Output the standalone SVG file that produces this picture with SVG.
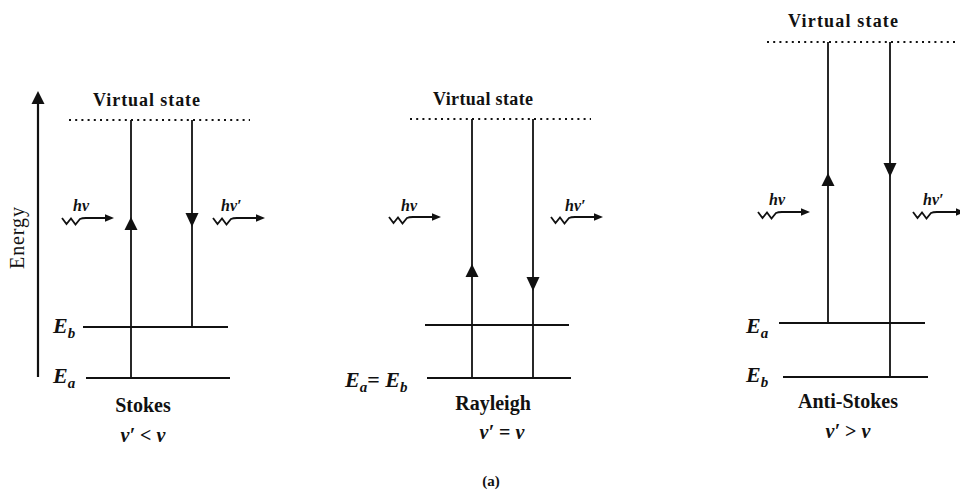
<svg xmlns="http://www.w3.org/2000/svg" width="960" height="495" viewBox="0 0 960 495">
<defs>
<style>
.bg{fill:#ffffff}
.lvl{stroke:#111;stroke-width:2.2;fill:none}
.tr{stroke:#111;stroke-width:1.8;fill:none}
.dot{stroke:#111;stroke-width:2;stroke-dasharray:2 4.2;fill:none}
.t{font-family:"Liberation Serif","Times New Roman",serif;font-weight:bold;fill:#111}
.axis{font-family:"Liberation Serif","Times New Roman",serif;font-weight:normal;fill:#111;font-size:20px}
.lab{font-size:20px;text-anchor:middle}
.vs{font-size:18px}
.e{font-family:"Liberation Serif","Times New Roman",serif;font-weight:bold;font-style:italic;fill:#111;font-size:22px}
.sub{font-size:15px}
.hv{font-family:"Liberation Serif","Times New Roman",serif;font-weight:bold;font-style:italic;fill:#111;font-size:16px}
</style>
<g id="photon">
<path d="M0,0 L4.5,6 L9,0.5 L13.5,6.5 L18,1 Q20,0 24,0 L45,0" stroke="#111" stroke-width="1.8" fill="none"/>
<polygon points="43,-3.8 52,0 43,3.8" fill="#111"/>
</g>
<polygon id="up" points="0,0 -6.5,13 6.5,13" fill="#111"/>
<polygon id="down" points="0,0 -6.5,-14 6.5,-14" fill="#111"/>
</defs>
<rect class="bg" x="0" y="0" width="960" height="495"/>

<g id="energy-axis">
<line class="lvl" x1="38" y1="100" x2="38" y2="377"/>
<use href="#up" x="38" y="91"/>
<text class="axis" transform="translate(24,238) rotate(-90)" text-anchor="middle" textLength="62">Energy</text>
</g>

<g id="connectors">
<line class="tr" x1="131" y1="120" x2="131" y2="378"/>
<line class="tr" x1="192" y1="120" x2="192" y2="327"/>
<use href="#up" x="131" y="217"/>
<use href="#down" x="192" y="227"/>
<line class="tr" x1="472" y1="119" x2="472" y2="378"/>
<line class="tr" x1="533" y1="119" x2="533" y2="378"/>
<use href="#up" x="472" y="264"/>
<use href="#down" x="533" y="291"/>
<line class="tr" x1="828" y1="42" x2="828" y2="323"/>
<line class="tr" x1="890" y1="42" x2="890" y2="377"/>
<use href="#up" x="828" y="173"/>
<use href="#down" x="890" y="177"/>
</g>

<g id="stokes">
<text class="t vs" x="93" y="106" textLength="107">Virtual  state</text>
<line class="dot" x1="69" y1="120" x2="250" y2="120"/>
<line class="lvl" x1="83" y1="327" x2="228" y2="327"/>
<line class="lvl" x1="86" y1="378" x2="230" y2="378"/>
<text class="e" x="53" y="333">E<tspan class="sub" dy="5">b</tspan></text>
<text class="e" x="53" y="383">E<tspan class="sub" dy="5">a</tspan></text>
<use href="#photon" x="62" y="218"/>
<text class="hv" x="73" y="211">hν</text>
<use href="#photon" x="213" y="218"/>
<text class="hv" x="221" y="211">hν′</text>
<text class="t lab" x="143" y="412">Stokes</text>
<text class="t lab" x="143" y="442"><tspan font-style="italic">ν′</tspan> &lt; <tspan font-style="italic">ν</tspan></text>
</g>

<g id="rayleigh">
<text class="t vs" x="433" y="105" textLength="100">Virtual  state</text>
<line class="dot" x1="410" y1="119" x2="591" y2="119"/>
<line class="lvl" x1="425" y1="325" x2="569" y2="325"/>
<line class="lvl" x1="427" y1="378" x2="571" y2="378"/>
<text class="e" x="345" y="387">E<tspan class="sub" dy="5">a</tspan><tspan dy="-5" font-style="normal">= </tspan>E<tspan class="sub" dy="5">b</tspan></text>
<use href="#photon" x="389" y="217"/>
<text class="hv" x="401" y="211">hν</text>
<use href="#photon" x="551" y="217"/>
<text class="hv" x="565" y="211">hν′</text>
<text class="t lab" x="493" y="410">Rayleigh</text>
<text class="t lab" x="502" y="439"><tspan font-style="italic">ν′</tspan> = <tspan font-style="italic">ν</tspan></text>
</g>

<g id="anti-stokes">
<text class="t vs" x="788" y="27" textLength="110">Virtual  state</text>
<line class="dot" x1="767" y1="42" x2="955" y2="42"/>
<line class="lvl" x1="779" y1="323" x2="925" y2="323"/>
<line class="lvl" x1="783" y1="377" x2="928" y2="377"/>
<text class="e" x="746" y="333">E<tspan class="sub" dy="5">a</tspan></text>
<text class="e" x="746" y="382">E<tspan class="sub" dy="5">b</tspan></text>
<use href="#photon" x="758" y="212"/>
<text class="hv" x="769" y="205">hν</text>
<use href="#photon" x="913" y="212"/>
<text class="hv" x="923" y="205">hν′</text>
<text class="t lab" x="848" y="408">Anti-Stokes</text>
<text class="t lab" x="848" y="438"><tspan font-style="italic">ν′</tspan> &gt; <tspan font-style="italic">ν</tspan></text>
</g>

<g id="caption">
<text class="t" x="491" y="486" font-size="15" text-anchor="middle">(a)</text>
</g>
</svg>
